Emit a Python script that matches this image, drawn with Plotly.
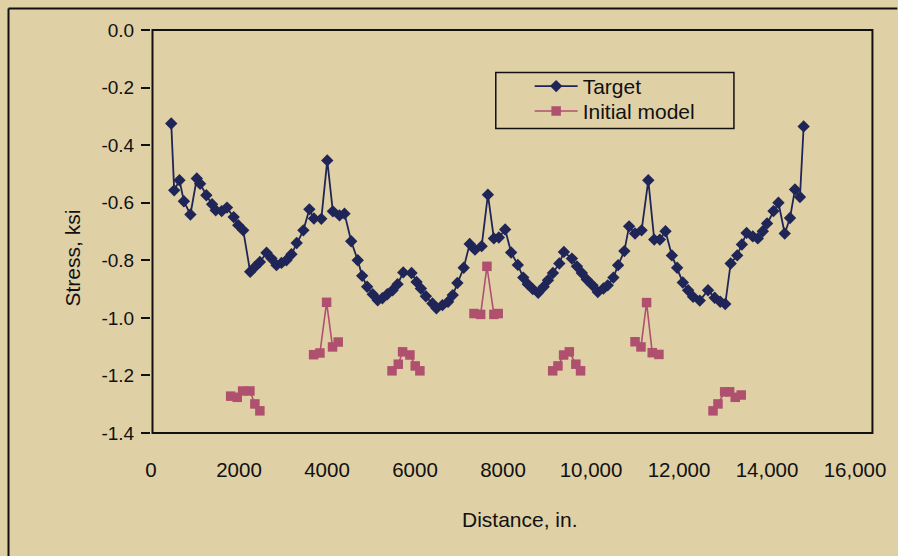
import plotly.graph_objects as go

# Target stress profile (distance in inches, stress in ksi)
target_x = [460, 527, 647, 747, 896, 1041, 1116, 1258, 1388, 1471, 1607, 1727, 1879, 1983, 2096,
            2254, 2361, 2474, 2626, 2739, 2852, 2965, 3078, 3192, 3311, 3463, 3599, 3703, 3871,
            4006, 4133, 4285, 4398, 4550, 4699, 4799, 4912, 5039, 5152, 5258, 5371, 5491, 5604,
            5733, 5921, 6035, 6134, 6247, 6397, 6487, 6623, 6752, 6858, 6963, 7107, 7243, 7363,
            7515, 7657, 7793, 7906, 8049, 8185, 8337, 8461, 8563, 8676, 8800, 8925, 9022, 9135,
            9280, 9384, 9566, 9679, 9792, 9905, 10034, 10154, 10283, 10380, 10509, 10616, 10758,
            10865, 11001, 11150, 11302, 11437, 11566, 11693, 11838, 11958, 12087, 12207, 12320,
            12472, 12660, 12811, 12938, 13051, 13174, 13323, 13429, 13536, 13678, 13791, 13905,
            14002, 14147, 14260, 14403, 14523, 14636, 14749, 14833]
target_y = [-0.325, -0.557, -0.522, -0.595, -0.641, -0.516, -0.534, -0.574, -0.605, -0.626, -0.629,
            -0.617, -0.650, -0.678, -0.696, -0.840, -0.823, -0.806, -0.774, -0.794, -0.817, -0.809,
            -0.800, -0.779, -0.740, -0.696, -0.623, -0.655, -0.656, -0.453, -0.630, -0.644, -0.638,
            -0.734, -0.800, -0.854, -0.892, -0.918, -0.939, -0.932, -0.918, -0.904, -0.883, -0.842,
            -0.844, -0.875, -0.898, -0.925, -0.950, -0.967, -0.956, -0.944, -0.921, -0.879, -0.826,
            -0.743, -0.763, -0.751, -0.572, -0.724, -0.721, -0.693, -0.773, -0.816, -0.860, -0.883,
            -0.900, -0.913, -0.892, -0.869, -0.844, -0.811, -0.771, -0.794, -0.821, -0.844, -0.867,
            -0.887, -0.910, -0.898, -0.887, -0.860, -0.817, -0.768, -0.682, -0.707, -0.696, -0.522,
            -0.728, -0.728, -0.699, -0.783, -0.826, -0.877, -0.904, -0.927, -0.940, -0.904, -0.930,
            -0.944, -0.952, -0.811, -0.783, -0.745, -0.705, -0.717, -0.724, -0.699, -0.672, -0.629,
            -0.600, -0.707, -0.653, -0.554, -0.580, -0.335]

# Initial model: separate groups, None breaks the line between groups
model_x = [1811, 1960, 2082, 2248, 2361, 2474, None,
           3696, 3839, 3991, 4126, 4255, None,
           5478, 5620, 5718, 5885, 6005, 6111, None,
           7341, 7492, 7635, 7793, 7891, None,
           9129, 9249, 9378, 9507, 9656, 9763, None,
           11001, 11136, 11263, 11392, 11544, None,
           12773, 12886, 13038, 13151, 13278, 13414]
model_y = [-1.272, -1.276, -1.254, -1.254, -1.299, -1.323, None,
           -1.128, -1.122, -0.946, -1.101, -1.084, None,
           -1.184, -1.161, -1.118, -1.129, -1.167, -1.184, None,
           -0.985, -0.988, -0.821, -0.988, -0.985, None,
           -1.184, -1.167, -1.129, -1.118, -1.161, -1.184, None,
           -1.083, -1.101, -0.947, -1.121, -1.127, None,
           -1.323, -1.299, -1.257, -1.257, -1.276, -1.268]

x_ticks = [0, 2000, 4000, 6000, 8000, 10000, 12000, 14000, 16000]
x_tick_text = ["0", "2000", "4000", "6000", "8000", "10,000", "12,000", "14,000", "16,000"]
y_ticks = [0.0, -0.2, -0.4, -0.6, -0.8, -1.0, -1.2, -1.4]
y_tick_text = ["0.0", "-0.2", "-0.4", "-0.6", "-0.8", "-1.0", "-1.2", "-1.4"]

BG = "#DFD0A6"
NAVY = "#1F2557"
PINK = "#B0506F"
INK = "#111111"
FONT = "Arial, Liberation Sans, Helvetica, sans-serif"
FS_TICK = 20.5
FS_YTICK = 19
FS_TEXT = 21

fig = go.Figure()
fig.add_trace(go.Scatter(
    x=target_x, y=target_y, mode="lines+markers", name="Target", legend="legend",
    line=dict(color=NAVY, width=1.8),
    marker=dict(symbol="diamond", size=9.5, color=NAVY),
))
fig.add_trace(go.Scatter(
    x=model_x, y=model_y, mode="lines+markers", name="Initial model", legend="legend2",
    line=dict(color=PINK, width=1.6), connectgaps=False,
    marker=dict(symbol="square", size=9.5, color=PINK),
))

W, H = 898, 556
L, R, T, B = 151, 40.5, 29.5, 123
pw = W - L - R
ph = H - T - B


def px_x(p):
    return (p - L) / pw


def px_y(p):
    return 1 - (p - T) / ph


shapes = [
    # plot frame
    dict(type="rect", xref="paper", yref="paper", x0=px_x(152.5), x1=px_x(875), y0=0, y1=1,
         line=dict(color=INK, width=2)),
    # legend box
    dict(type="rect", xref="paper", yref="paper", x0=px_x(497), x1=px_x(736),
         y0=px_y(128), y1=px_y(72), line=dict(color=INK, width=1.5)),
    # outer chart border
    dict(type="line", xref="paper", yref="paper", x0=px_x(8), x1=px_x(8),
         y0=px_y(8), y1=px_y(560), line=dict(color=INK, width=2)),
    dict(type="line", xref="paper", yref="paper", x0=px_x(8), x1=px_x(900),
         y0=px_y(8), y1=px_y(8), line=dict(color=INK, width=2)),
]

annotations = [
    dict(text="Distance, in.", xref="paper", yref="paper", x=px_x(521), y=px_y(520),
         showarrow=False, font=dict(family=FONT, size=FS_TEXT, color=INK),
         xanchor="center", yanchor="middle"),
    dict(text="Stress, ksi", xref="paper", yref="paper", x=px_x(72), y=px_y(258),
         showarrow=False, textangle=-90, font=dict(family=FONT, size=FS_TEXT, color=INK),
         xanchor="center", yanchor="middle"),
]

legend_style = dict(xanchor="left", yanchor="middle", bgcolor="rgba(0,0,0,0)",
                    borderwidth=0, font=dict(family=FONT, size=FS_TEXT, color=INK),
                    itemwidth=43)

fig.update_layout(
    width=W, height=H,
    margin=dict(l=L, r=R, t=T, b=B, pad=0),
    paper_bgcolor=BG, plot_bgcolor=BG,
    font=dict(family=FONT, size=FS_TICK, color=INK),
    showlegend=True,
    legend=dict(x=px_x(531), y=px_y(86), **legend_style),
    legend2=dict(x=px_x(531), y=px_y(111), **legend_style),
    shapes=shapes,
    annotations=annotations,
    xaxis=dict(range=[0, 16000], tickvals=x_ticks, ticktext=x_tick_text,
               showgrid=False, zeroline=False, showline=False, ticks="",
               ticklabelstandoff=22, tickfont=dict(family=FONT, size=FS_TICK, color=INK)),
    xaxis2=dict(overlaying="x", side="top", anchor="y",
                range=[(L - 152.5) / ((875 - 152.5) / 16000),
                       (L + pw - 152.5) / ((875 - 152.5) / 16000)],
                tickvals=[2000, 4000, 6000, 8000, 10000, 12000, 14000],
                showticklabels=False, ticks="inside", ticklen=8, tickwidth=1.5,
                tickcolor=INK, showgrid=False, zeroline=False, showline=False),
    yaxis=dict(range=[-1.4, 0.0], tickvals=y_ticks, ticktext=y_tick_text,
               showgrid=False, zeroline=False, showline=False,
               ticks="outside", ticklen=9, tickwidth=1.5, tickcolor=INK,
               ticklabelstandoff=3, tickfont=dict(family=FONT, size=FS_YTICK, color=INK)),
)

fig.write_html("out.html")
